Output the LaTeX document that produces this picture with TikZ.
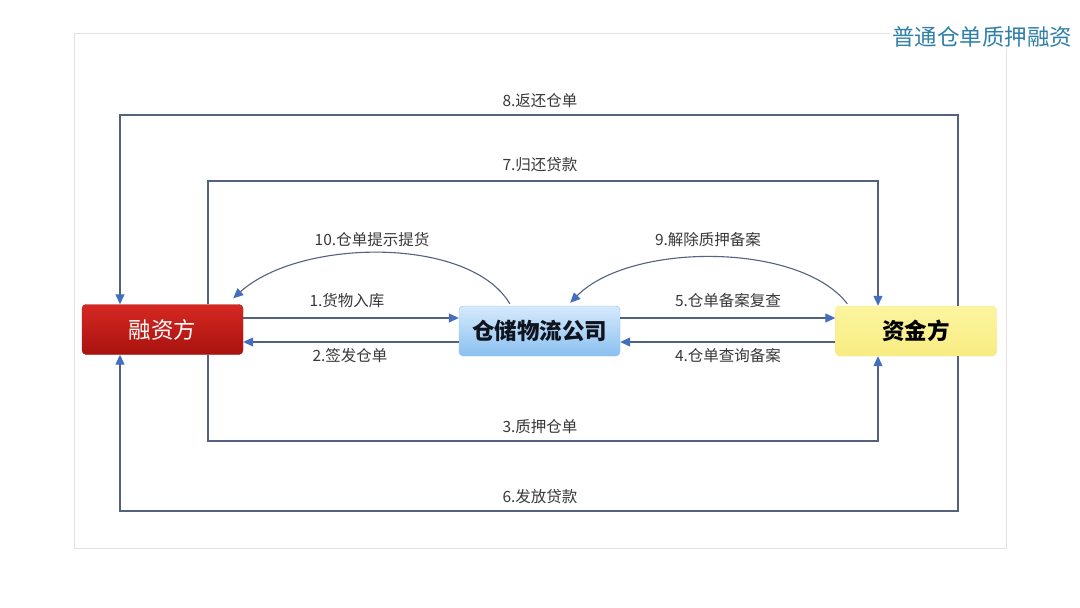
\documentclass[tikz,border=0pt]{standalone}
\usepackage{fontspec}
\setmainfont{Noto Sans CJK SC}
\usetikzlibrary{arrows.meta,calc}
\definecolor{linec}{RGB}{84,98,126}
\definecolor{tipc}{RGB}{68,110,190}
\definecolor{titlec}{RGB}{47,127,168}
\definecolor{framec}{RGB}{226,226,226}
\tikzset{
  conn/.style={draw=linec, line width=1.1pt, -{Triangle[length=10pt,width=9pt,fill=tipc,color=tipc]}},
  lbl/.style={font=\fontsize{15.5}{17}\selectfont, text=black!78, inner sep=1pt},
  boxbase/.style={rounded corners=4pt, minimum width=161pt, minimum height=50pt, inner sep=0pt},
  redbox/.style={boxbase, top color={rgb,255:red,214;green,40;blue,34}, bottom color={rgb,255:red,168;green,18;blue,14}, draw={rgb,255:red,180;green,30;blue,25}, text=white, font=\fontsize{22.5}{24}\selectfont},
  bluebox/.style={boxbase, top color={rgb,255:red,214;green,234;blue,252}, bottom color={rgb,255:red,138;green,192;blue,240}, draw={rgb,255:red,150;green,195;blue,235}, text={rgb,255:red,15;green,20;blue,30}, font=\fontsize{22.5}{24}\selectfont\bfseries},
  yellowbox/.style={boxbase, top color={rgb,255:red,252;green,245;blue,160}, bottom color={rgb,255:red,248;green,236;blue,130}, draw={rgb,255:red,245;green,235;blue,150}, text=black, font=\fontsize{22.5}{24}\selectfont\bfseries},
}
\begin{document}
\begin{tikzpicture}[x=1pt,y=-1pt]
\useasboundingbox[fill=white] (0,0) rectangle (1080,608);
% frame
\draw[framec, line width=0.8pt] (74,33) rectangle (1006,548);
\node[fill=white, inner sep=2pt, text=titlec, font=\fontsize{22.5}{24}\selectfont] (title) at (982,37) {普通仓单质押融资};
% boxes
\node[redbox] (rz) at (162.5,329.5) {融资方};
\node[bluebox] (cc) at (539.5,331) {仓储物流公司};
\node[yellowbox] (zj) at (916,331) {资金方};
% helper coordinates
\coordinate (xL) at (120,0);
\coordinate (xl) at (208,0);
\coordinate (xr) at (878,0);
\coordinate (xR) at (958,0);
\coordinate (yA) at (0,318);
\coordinate (yB) at (0,342);
\coordinate (t8) at (540,115);
\coordinate (t7) at (540,181);
\coordinate (t3) at (540,441);
\coordinate (t6) at (540,511);
% outer loops
\draw[conn] (zj.north -| xR) |- (t8) -| (rz.north -| xL);
\draw[conn] (rz.north -| xl) |- (t7) -| (zj.north -| xr);
\draw[conn] (rz.south -| xl) |- (t3) -| (zj.south -| xr);
\draw[conn] (zj.south -| xR) |- (t6) -| (rz.south -| xL);
\node[lbl] (l8) at (540,101) {8.返还仓单};
\node[lbl] (l7) at (540,165) {7.归还贷款};
\node[lbl] (l3) at (540,427) {3.质押仓单};
\node[lbl] (l6) at (540,497) {6.发放贷款};
% horizontal
\draw[conn] (rz.east |- yA) -- (cc.west |- yA);
\draw[conn] (cc.west |- yB) -- (rz.east |- yB);
\draw[conn] (cc.east |- yA) -- (zj.west |- yA);
\draw[conn] (zj.west |- yB) -- (cc.east |- yB);
\node[lbl] (l1) at (347,301) {1.货物入库};
\node[lbl] (l2) at (350,356) {2.签发仓单};
\node[lbl] (l5) at (728,301) {5.仓单备案复查};
\node[lbl] (l4) at (728,356) {4.仓单查询备案};
% curves
\coordinate (c10s) at ($(cc.north west)+(51,-2)$);
\coordinate (c10e) at ($(rz.north east)+(-10,-6)$);
\draw[conn] (c10s) .. controls (470,236) and (300,238) .. (c10e);
\coordinate (c9s) at ($(zj.north west)+(12,-2)$);
\coordinate (c9e) at ($(cc.north east)+(-50,-3)$);
\draw[conn] (c9s) .. controls (800,242) and (630,242) .. (c9e);
\node[lbl] (l10) at (372,240) {10.仓单提示提货};
\node[lbl] (l9) at (708,240) {9.解除质押备案};
\end{tikzpicture}
\end{document}
